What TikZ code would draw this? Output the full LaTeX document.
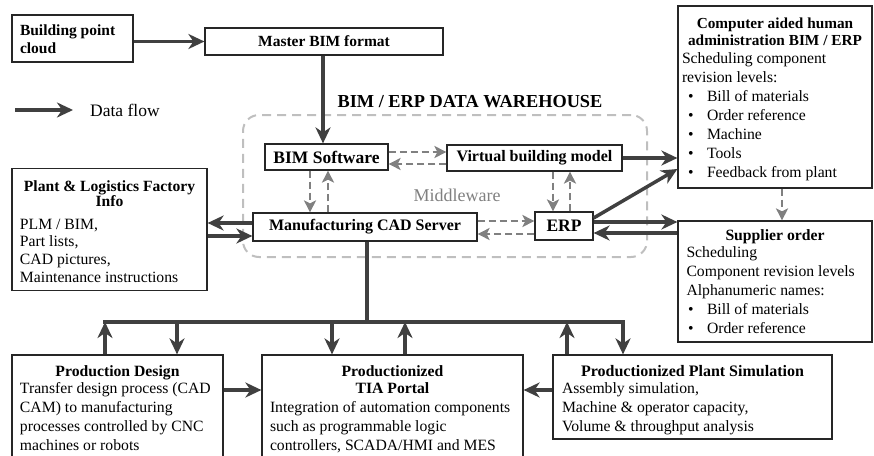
\documentclass[tikz,border=0pt]{standalone}
\usepackage{fontspec}
\setmainfont{Liberation Serif}
\usetikzlibrary{arrows.meta}
\definecolor{dk}{HTML}{404040}
\definecolor{md}{HTML}{808080}
\definecolor{lt}{HTML}{BFBFBF}
\newcommand\fs[2]{\fontsize{#1}{#2}\selectfont}
\newcommand\bxa{\hspace*{6pt}\makebox[19pt][l]{•}}
\newcommand\bxb{\hspace*{1.5pt}\makebox[19pt][l]{•}}
\tikzset{
  box/.style={draw=black!85, line width=1.2pt, fill=white, inner ysep=0pt, font=\fs{15.7}{19}},
  flow/.style={draw=dk, line width=3.5pt, -{Stealth[length=16pt,width=15pt,inset=5pt]}},
  bus/.style={draw=dk, line width=4pt},
  dflow/.style={draw=md, line width=2.8pt, dash pattern=on 7pt off 4pt, -{Stealth[length=12pt,width=12pt,inset=3pt]}},
}
\begin{document}
\begin{tikzpicture}[x=1pt,y=-1pt]
\useasboundingbox (0,0) rectangle (874,455);
\clip (0,0) rectangle (874,455);

% data warehouse container
\node[draw=lt, line width=2pt, dash pattern=on 9pt off 6pt, rounded corners=16pt,
      minimum width=404pt, minimum height=142pt, inner sep=0pt] (dw) at (445,186) {};
\node[font=\bfseries\fs{18.3}{20}, inner sep=0pt] (dwt) at (470,102) {BIM / ERP DATA WAREHOUSE};
\node[font=\fs{18}{20}, text=md, inner sep=0pt] (mw) at (457,195) {Middleware};

% legend
\coordinate (lgs) at (15,110);
\node[anchor=west, inner sep=0pt, font=\fs{17.5}{20}] (lgt) at (90,110) {Data flow};
\draw[flow] (lgs) -- ([xshift=-17pt]lgt.west);

% boxes
\node[box, inner xsep=8pt] (bpc) at (72.5,38.5)
  {\parbox[c][47pt][t]{105pt}{\raggedright\bfseries\fs{15.5}{18}\rule{0pt}{20pt}Building point\\cloud}};
\node[box, font=\bfseries\fs{15.5}{18}, minimum width=238pt, minimum height=27pt] (mbim) at (324,41.5) {Master BIM format};
\node[box, font=\bfseries\fs{17.5}{20}, minimum width=123pt, minimum height=26pt] (bims) at (326.5,157) {BIM Software};
\node[box, font=\bfseries\fs{16}{18}, minimum width=175pt, minimum height=26pt] (vbm) at (534.5,158) {Virtual building model};
\node[box, font=\bfseries\fs{16}{18}, minimum width=224pt, minimum height=28pt] (mcad) at (365,227) {Manufacturing CAD Server};
\node[box, font=\bfseries\fs{17.5}{20}, minimum width=58pt, minimum height=28pt] (erp) at (564,226) {ERP};

\node[box, inner xsep=4pt] (cah) at (775,97)
  {\parbox[c][182pt][t]{186pt}{\raggedright
   {\centering\bfseries\fs{15.3}{17}\rule{0pt}{22pt}Computer aided human\\administration BIM / ERP\par}
   \vspace{-1pt}Scheduling component\\revision levels:\\
   \bxa Bill of materials\\\bxa Order reference\\\bxa Machine\\\bxa Tools\\\bxa Feedback from plant}};

\node[box, inner xsep=8.5pt] (sup) at (775,281.5)
  {\parbox[c][121pt][t]{177pt}{\raggedright
   {\centering\bfseries\fs{15.7}{17}\rule{0pt}{19pt}Supplier order\par}
   \vspace{-2pt}Scheduling\\Component revision levels\\Alphanumeric names:\\
   \bxb Bill of materials\\\bxb Order reference}};

\node[box, inner xsep=0pt] (plf) at (109.5,229.5)
  {\hspace*{8pt}\parbox[c][122pt][t]{185pt}{\raggedright
   {\centering\bfseries\fs{15.6}{15}\rule{0pt}{22.5pt}\hspace*{-6pt}Plant \& Logistics Factory\\\hspace*{-6pt}Info\par}
   \fs{15.7}{17.8}\vspace{5.2pt}PLM / BIM,\\Part lists,\\CAD pictures,\\Maintenance instructions}\hspace*{2pt}};

\node[box, inner xsep=0pt] (pd) at (117.5,412.5)
  {\hspace*{8pt}\parbox[c][115pt][t]{200pt}{\raggedright
   {\centering\bfseries\fs{15.7}{17}\rule{0pt}{21pt}\hspace*{-5pt}Production Design\par}
   \vspace{-2pt}Transfer design process (CAD\\CAM) to manufacturing\\processes controlled by CNC\\machines or robots}\hspace*{3pt}};

\node[box, inner xsep=8pt] (tia) at (392.5,412.5)
  {\parbox[c][115pt][t]{245pt}{\raggedright
   {\centering\bfseries\fs{15.7}{17}\rule{0pt}{21pt}Productionized\\TIA Portal\par}
   \vspace{0.5pt}Integration of automation components\\such as programmable logic\\controllers, SCADA/HMI and MES}};

\node[box, inner xsep=9pt] (psim) at (692.5,397)
  {\parbox[c][84pt][t]{261pt}{\raggedright
   {\centering\bfseries\fs{16}{17}\rule{0pt}{21pt}Productionized Plant Simulation\par}
   \vspace{-2pt}Assembly simulation,\\Machine \& operator capacity,\\Volume \& throughput analysis}};

% solid data flows
\draw[flow] (bpc.east |- mbim.west) -- (mbim.west);
\draw[flow] ([xshift=-1pt]mbim.south) -- ([xshift=-1pt]mbim.south |- bims.north);
\draw[flow] (vbm.east) -- (vbm.east -| cah.west);
\draw[flow] ([yshift=8pt]erp.east) -- ([yshift=-72pt]cah.west);
\draw[flow] ([yshift=4pt]erp.east) -- ([yshift=4pt]erp.east -| sup.west);
\draw[flow] ([yshift=-7pt]erp.east -| sup.west) -- ([yshift=-7pt]erp.east);
\draw[flow] ([yshift=4pt]mcad.west) -- ([yshift=4pt]mcad.west -| plf.east);
\draw[flow] ([yshift=-9pt]mcad.west -| plf.east) -- ([yshift=-9pt]mcad.west);

% dashed middleware flows
\draw[dflow] ([yshift=5pt]bims.east) -- ([yshift=5pt]bims.east -| vbm.west);
\draw[dflow] ([yshift=-6pt]vbm.west) -- ([yshift=-6pt]vbm.west -| bims.east);
\draw[dflow] ([xshift=-16.5pt]bims.south) -- ([xshift=-16.5pt]bims.south |- mcad.north);
\draw[dflow] ([xshift=1.5pt]bims.south |- mcad.north) -- ([xshift=1.5pt]bims.south);
\draw[dflow] ([xshift=-11pt]erp.north |- vbm.south) -- ([xshift=-11pt]erp.north);
\draw[dflow] ([xshift=6pt]erp.north) -- ([xshift=6pt]erp.north |- vbm.south);
\draw[dflow] ([yshift=6pt]mcad.east) -- ([yshift=6pt]mcad.east -| erp.west);
\draw[dflow] ([yshift=-8pt]erp.west) -- ([yshift=-8pt]erp.west -| mcad.east);
\draw[dflow] ([xshift=7pt]cah.south) -- ([xshift=7pt]cah.south |- sup.north);

% bus to production
\coordinate (busL) at (105,322);
\coordinate (busR) at (623,322);
\draw[bus] ([xshift=2pt]mcad.south) -- ([xshift=2pt]mcad.south |- busL);
\draw[bus, line cap=rect] (busL) -- (busR);
\draw[flow] ([xshift=-12.5pt]pd.north) -- ([xshift=-12.5pt]pd.north |- busL);
\draw[flow] ([xshift=59.5pt]pd.north |- busL) -- ([xshift=59.5pt]pd.north);
\draw[flow] ([xshift=-60.5pt]tia.north |- busL) -- ([xshift=-60.5pt]tia.north);
\draw[flow] ([xshift=12.5pt]tia.north) -- ([xshift=12.5pt]tia.north |- busL);
\draw[flow] ([xshift=-125.5pt]psim.north) -- ([xshift=-125.5pt]psim.north |- busL);
\draw[flow] ([xshift=-69.5pt]psim.north |- busL) -- ([xshift=-69.5pt]psim.north);
\draw[flow] ([yshift=22.5pt]pd.east) -- ([yshift=22.5pt]pd.east -| tia.west);
\draw[flow] ([yshift=7pt]psim.west) -- ([yshift=7pt]psim.west -| tia.east);
\end{tikzpicture}
\end{document}
